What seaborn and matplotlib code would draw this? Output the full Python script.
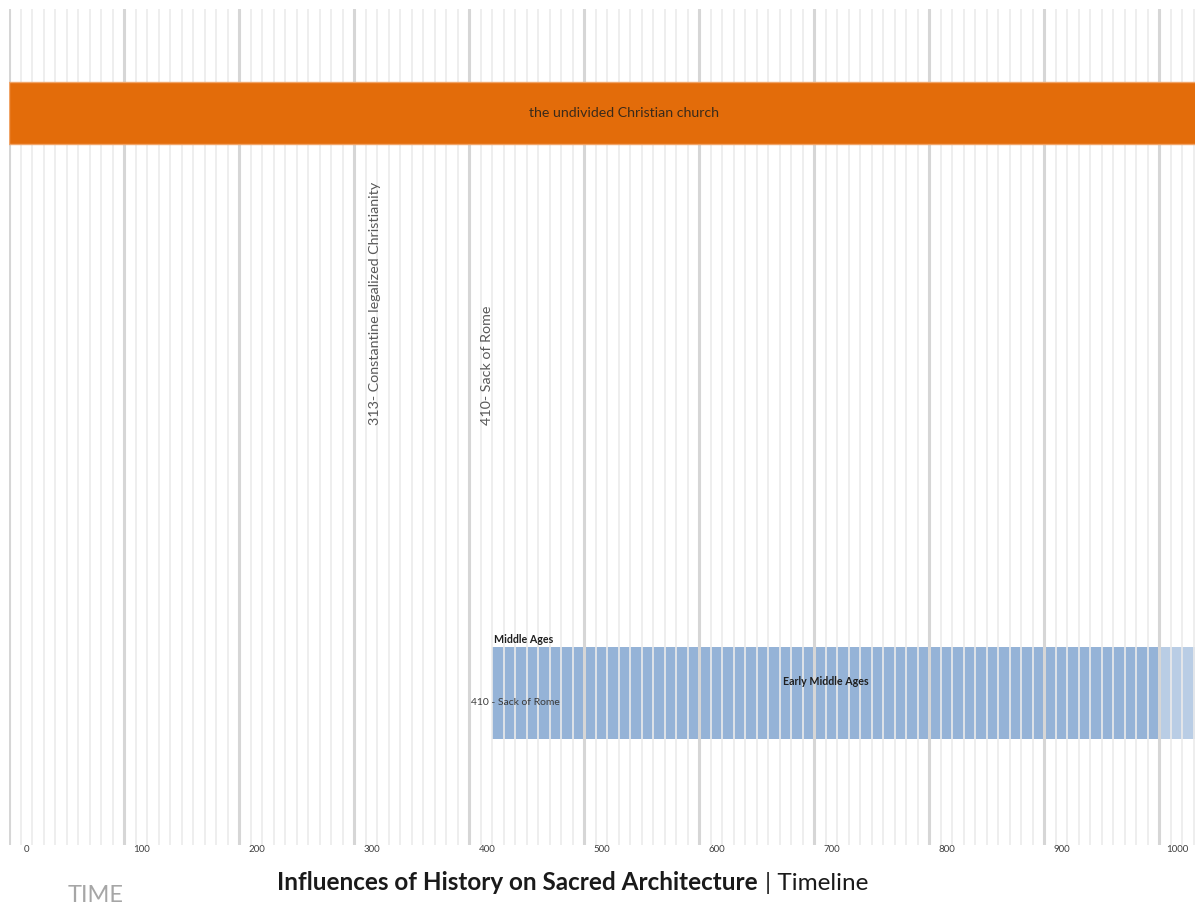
import matplotlib
matplotlib.use("Agg")
import matplotlib.pyplot as plt
from matplotlib.ticker import MultipleLocator, FixedLocator
from matplotlib.transforms import ScaledTranslation
import seaborn as sns

# ---- timeline data -------------------------------------------------------
church_names = ["the undivided Christian church"]
church_start = [0]
church_end = [1070]

age_names = ["Early Middle Ages", "High Middle Ages"]
age_start = [420, 1000]
age_end = [1000, 1300]
age_group = "Middle Ages"

event_years = [313, 410]
event_texts = ["Constantine legalized Christianity", "Sack of Rome"]

tick_values = list(range(0, 1001, 100))
tick_labels = [str(v) for v in tick_values]

# ---- style ---------------------------------------------------------------
sns.set_theme(style="white")
plt.rcParams["font.family"] = ["Lato", "DejaVu Sans"]

ORANGE = "#e36c0a"
BLUE = "#95b3d7"
BLUE_LIGHT = "#b9cde5"
MAJOR_GRID = "#d6d6d6"
MINOR_GRID = "#ebebeb"

W, H, DPI = 1195, 907, 100
fig = plt.figure(figsize=(W / DPI, H / DPI), dpi=DPI)
ax = fig.add_axes([9 / W, 62 / H, 1186 / W, 836 / H])

ax.set_xlim(0, 1031)
ax.set_ylim(100, 0)
ax.set_axisbelow("line")

# church lane (above the grid)
church_y, church_h = 12.44, 7.42
for name, s, e in zip(church_names, church_start, church_end):
    ax.barh(church_y, e - s, left=s, height=church_h, color=ORANGE,
            edgecolor="#f0a468", linewidth=1.0, zorder=3)
    ax.text((s + e) / 2, church_y, name, ha="center", va="center",
            fontsize=10.2, color="#3a2a1a", zorder=4)

# Middle Ages lane (below the grid)
age_y, age_h = 81.8, 11.0
age_colors = [BLUE, BLUE_LIGHT]
for name, s, e, c in zip(age_names, age_start, age_end, age_colors):
    ax.barh(age_y, e - s, left=s, height=age_h, color=c, linewidth=0, zorder=1)
ax.text((age_start[0] + age_end[0]) / 2, 80.5, age_names[0], ha="center",
        va="center", fontsize=7.7, fontweight="bold", color="#1f1f1f", zorder=4)
ax.annotate(age_group, xy=(age_start[0], age_y - age_h / 2), xytext=(1.5, 1.5),
            textcoords="offset points", ha="left", va="bottom", fontsize=7.7,
            fontweight="bold", color="#1f1f1f", zorder=4)
ax.annotate(f"{event_years[1]} - {event_texts[1]}", xy=(event_years[1], 83.0),
            xytext=(-7, 0), textcoords="offset points", ha="left", va="center",
            fontsize=7.5, color="#3a3a3a", zorder=4)

# vertical event labels
for yr, txt in zip(event_years, event_texts):
    ax.text(yr, 49.76, f"{yr}- {txt}", rotation=90, ha="left", va="bottom",
            fontsize=10.3, color="#595959", zorder=4)

# grid and ticks
ax.xaxis.set_major_locator(FixedLocator(tick_values))
ax.xaxis.set_minor_locator(MultipleLocator(10))
ax.set_xticks(tick_values, tick_labels)
ax.grid(True, axis="x", which="major", color=MAJOR_GRID, linewidth=2.2)
ax.grid(True, axis="x", which="minor", color=MINOR_GRID, linewidth=1.2)
ax.grid(False, axis="y")
ax.tick_params(axis="x", which="major", direction="out", length=7.5, width=1.6,
               color=MAJOR_GRID, pad=-7.5, labelsize=7, labelcolor="#404040")
ax.tick_params(axis="x", which="minor", length=0)
ax.tick_params(axis="y", left=False, labelleft=False)
shift = ScaledTranslation(0.18, 0, fig.dpi_scale_trans)
for lab in ax.get_xticklabels():
    lab.set_transform(lab.get_transform() + shift)
sns.despine(ax=ax, left=True, bottom=True)

# footer
fig.text(68 / W, 1 - 895 / H, "TIME", ha="left", va="center",
         fontsize=17, color="#a6a6a6")
fig.text(758 / W, 1 - 883 / H, "Influences of History on Sacred Architecture",
         ha="right", va="center", fontsize=17.5, fontweight="bold", color="#1a1a1a")
fig.text(765 / W, 1 - 883 / H, "| Timeline", ha="left", va="center",
         fontsize=17.5, color="#1a1a1a")

fig.savefig("out.png", dpi=DPI)
